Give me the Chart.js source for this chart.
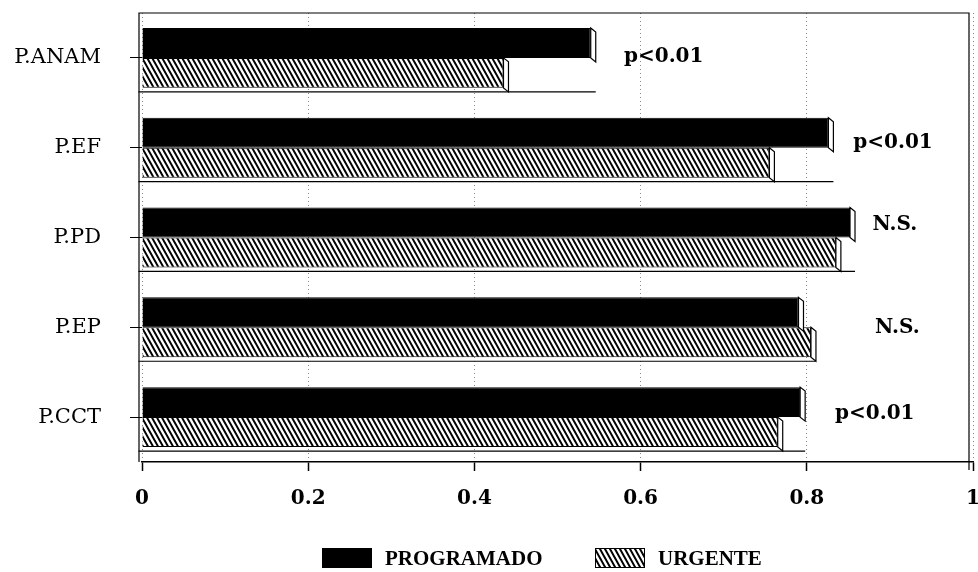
<!DOCTYPE html>
<html>
<head>
<meta charset="utf-8">
<script src="https://cdn.jsdelivr.net/npm/chart.js@4.4.1/dist/chart.umd.min.js"></script>
<style>
html,body{margin:0;padding:0;background:#fff;}
#wrap{width:978px;height:572px;}
</style>
</head>
<body>
<div id="wrap"><canvas id="c" width="978" height="572"></canvas></div>
<script>
const categories = ['P.ANAM', 'P.EF', 'P.PD', 'P.EP', 'P.CCT'];
const programado = [0.54, 0.826, 0.852, 0.79, 0.792];
const urgente = [0.435, 0.755, 0.835, 0.805, 0.765];
const xTicks = [0, 0.2, 0.4, 0.6, 0.8, 1];
const annotTexts = ['p<0.01', 'p<0.01', 'N.S.', 'N.S.', 'p<0.01'];
const annotX = [0.58, 0.856, 0.879, 0.882, 0.834];
const annotDy = [-1, -5, -13, 0, -3];

const SERIF = '"Liberation Serif", "DejaVu Serif", serif';
const DSERIF = '"DejaVu Serif", "Liberation Serif", serif';

function hatchPattern(ctx) {
  const w = 5, h = 9;
  const c = document.createElement('canvas');
  c.width = w; c.height = h;
  const g = c.getContext('2d');
  g.fillStyle = '#fff';
  g.fillRect(0, 0, w, h);
  g.strokeStyle = '#000';
  g.lineWidth = 2;
  g.beginPath();
  for (const off of [-w, 0, w]) {
    g.moveTo(off - 1, -1.8);
    g.lineTo(off + w + 1, h + 1.8);
  }
  g.stroke();
  return ctx.createPattern(c, 'repeat');
}
const ctx0 = document.getElementById('c').getContext('2d');
const hatch = hatchPattern(ctx0);

const capsPlugin = {
  id: 'caps',
  afterDatasetsDraw(chart) {
    const ctx = chart.ctx;
    ctx.save();
    ctx.strokeStyle = '#000';
    ctx.lineWidth = 1.2;
    const metas = chart.data.datasets.map((d, i) => chart.getDatasetMeta(i));
    const n = chart.data.labels.length;
    for (let k = 0; k < n; k++) {
      let maxX = -Infinity, base = 0, bottom = -Infinity;
      metas.forEach(meta => {
        const p = meta.data[k].getProps(['x', 'y', 'base', 'height'], true);
        maxX = Math.max(maxX, p.x);
        base = p.base;
        bottom = Math.max(bottom, p.y + p.height / 2);
      });
      ctx.beginPath();
      ctx.moveTo(base - 4, bottom + 4);
      ctx.lineTo(maxX + 5, bottom + 4);
      ctx.stroke();
      metas.forEach(meta => {
        const p = meta.data[k].getProps(['x', 'y', 'base', 'height'], true);
        const top = p.y - p.height / 2;
        const bot = p.y + p.height / 2;
        ctx.beginPath();
        ctx.moveTo(p.x, top);
        ctx.lineTo(p.x + 5, top + 4);
        ctx.lineTo(p.x + 5, bot + 4);
        ctx.lineTo(p.x, bot);
        ctx.closePath();
        ctx.fillStyle = '#fff';
        ctx.fill();
        ctx.stroke();
      });
    }
    ctx.restore();
  }
};

const annotPlugin = {
  id: 'annot',
  afterDraw(chart) {
    const ctx = chart.ctx;
    const xs = chart.scales.x, ys = chart.scales.y;
    ctx.save();
    ctx.font = 'bold 20px ' + DSERIF;
    ctx.fillStyle = '#000';
    ctx.textBaseline = 'middle';
    ctx.textAlign = 'left';
    annotTexts.forEach((t, i) => {
      ctx.fillText(t, xs.getPixelForValue(annotX[i]), ys.getPixelForValue(i) + annotDy[i]);
    });
    ctx.restore();
  }
};

const legendPlugin = {
  id: 'customLegend',
  afterDraw(chart) {
    const ctx = chart.ctx;
    ctx.save();
    ctx.font = 'bold 21px ' + SERIF;
    ctx.textBaseline = 'middle';
    ctx.textAlign = 'left';
    const y = 558;
    const starts = [322, 595];
    chart.data.datasets.forEach((ds, i) => {
      const x = starts[i];
      ctx.fillStyle = ds.backgroundColor;
      ctx.fillRect(x, y - 10, 50, 20);
      ctx.strokeStyle = '#000';
      ctx.lineWidth = 1;
      ctx.strokeRect(x + 0.5, y - 9.5, 49, 19);
      ctx.fillStyle = '#000';
      ctx.fillText(ds.label, x + 63, y + 2);
    });
    ctx.restore();
  }
};

const framePlugin = {
  id: 'frame',
  beforeDatasetsDraw(chart) {
    const a = chart.chartArea, ctx = chart.ctx;
    ctx.save();
    ctx.strokeStyle = '#000';
    ctx.lineWidth = 1.2;
    ctx.beginPath();
    ctx.moveTo(a.left - 3, a.bottom);
    ctx.lineTo(a.left - 3, a.top);
    ctx.lineTo(a.right - 4, a.top);
    ctx.lineTo(a.right - 4, a.bottom + 8);
    ctx.stroke();
    ctx.restore();
  }
};

new Chart(ctx0, {
  type: 'bar',
  data: {
    labels: categories,
    datasets: [
      { label: 'PROGRAMADO', data: programado, backgroundColor: '#000', borderColor: '#000', borderWidth: 1, categoryPercentage: 0.667, barPercentage: 1 },
      { label: 'URGENTE', data: urgente, backgroundColor: hatch, borderColor: '#000', borderWidth: 1, categoryPercentage: 0.667, barPercentage: 1 }
    ]
  },
  options: {
    indexAxis: 'y',
    responsive: false,
    animation: false,
    layout: { padding: { top: 13, right: 5, left: 0, bottom: 60 } },
    scales: {
      x: {
        min: 0, max: 1,
        afterBuildTicks(scale) { scale.ticks = xTicks.map(v => ({ value: v })); },
        afterFit(scale) { scale.height = 50; scale.paddingLeft = 0; scale.paddingRight = 0; },
        ticks: {
          color: '#000',
          font: { family: DSERIF, size: 20, weight: 'bold' },
          padding: 16,
          maxRotation: 0,
          callback: v => String(v)
        },
        grid: {
          color: '#888',
          lineWidth: 1,
          tickLength: 9,
          tickColor: '#000',
          tickWidth: 1.5,
          tickBorderDash: [],
        },
        border: { display: true, color: '#000', width: 1.5, dash: [1, 3] }
      },
      y: {
        afterFit(scale) { scale.width = 142; scale.paddingTop = 0; scale.paddingBottom = 0; },
        ticks: {
          color: '#000',
          font: { family: DSERIF, size: 21 },
          padding: 29,
        },
        grid: {
          offset: false,
          drawOnChartArea: false,
          color: '#000',
          lineWidth: 1,
          tickLength: 12,
        },
        border: { display: false }
      }
    },
    plugins: {
      legend: { display: false },
      tooltip: { enabled: false }
    }
  },
  plugins: [framePlugin, capsPlugin, annotPlugin, legendPlugin]
});
</script>
</body>
</html>
